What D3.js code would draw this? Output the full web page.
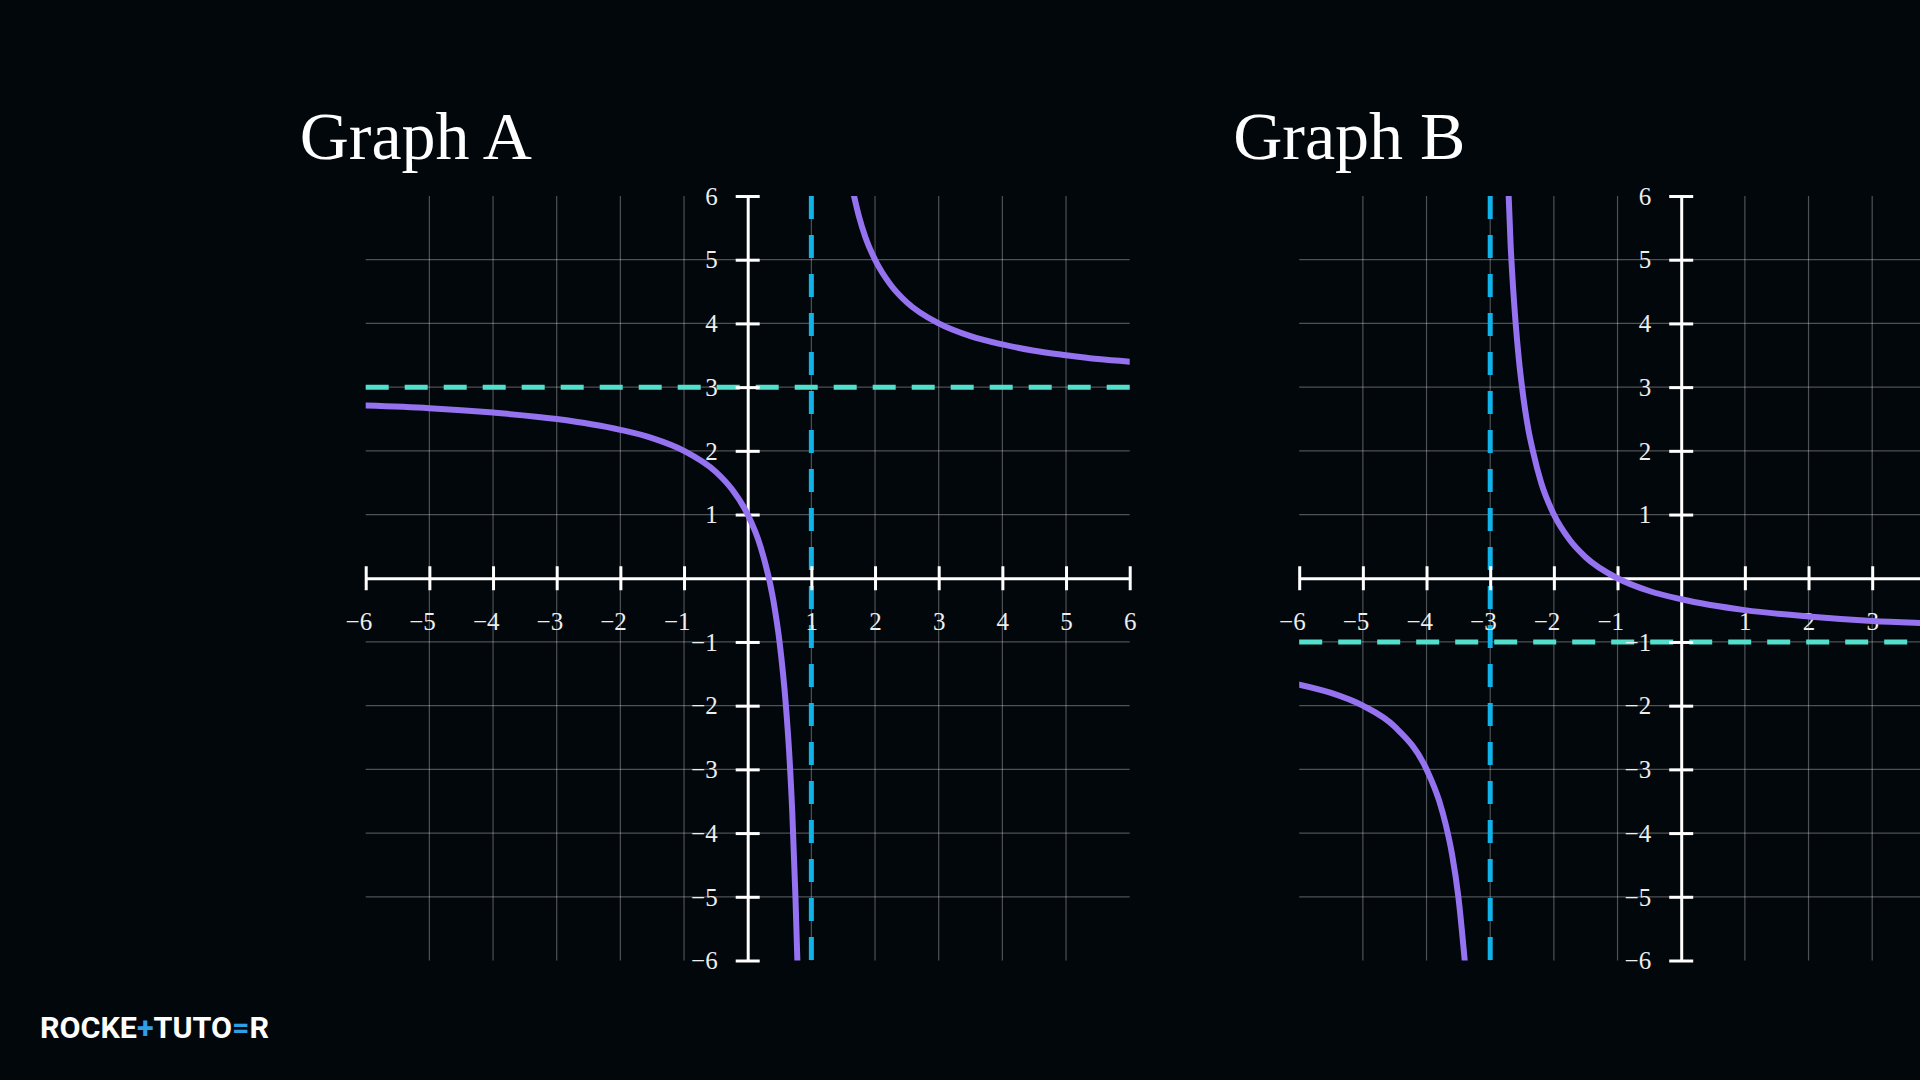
<!DOCTYPE html>
<html>
<head>
<meta charset="utf-8">
<script src="https://cdn.jsdelivr.net/npm/d3@7"></script>
<style>
  html, body { margin: 0; padding: 0; background: #02070c; }
  svg { display: block; }
</style>
</head>
<body>
<svg id="chart" width="1920" height="1080"></svg>
<script>
// tick values shared by both graphs
const axisTicks = [-6, -5, -4, -3, -2, -1, 1, 2, 3, 4, 5, 6];
const gridTicks = [-5, -4, -3, -2, -1, 1, 2, 3, 4, 5];
const domain = [-6, 6];

// Graph A : asymptotes x = 1, y = 3
const titleA = "Graph A";
const asymA = [1, 3];
const graphALeft = [
  [-6, 2.71], [-5, 2.67], [-4, 2.6], [-3, 2.5], [-2, 2.33], [-1.5, 2.2],
  [-1, 2.0], [-0.5, 1.67], [-0.25, 1.4], [0, 1.0], [0.2, 0.5], [0.4, -0.33],
  [0.5, -1.0], [0.6, -2.0], [0.65, -2.71], [0.7, -3.67], [0.75, -5.0], [0.78, -6.0]
];
const graphARight = [
  [1.67, 6.0], [1.75, 5.67], [1.85, 5.35], [2, 5.0], [2.25, 4.6], [2.5, 4.33],
  [3, 4.0], [3.5, 3.8], [4, 3.67], [4.5, 3.57], [5, 3.5], [5.5, 3.44], [6, 3.4]
];

// Graph B : asymptotes x = -3, y = -1
const titleB = "Graph B";
const asymB = [-3, -1];
const graphBLeft = [
  [-6, -1.67], [-5.5, -1.8], [-5, -2.0], [-4.5, -2.33], [-4, -3.0], [-3.8, -3.5],
  [-3.7, -3.86], [-3.6, -4.33], [-3.5, -5.0], [-3.4, -6.0]
];
const graphBRight = [
  [-2.71, 6.0], [-2.68, 5.25], [-2.65, 4.71], [-2.6, 4.0], [-2.55, 3.44], [-2.5, 3.0],
  [-2.4, 2.33], [-2.33, 2.0], [-2.2, 1.5], [-2, 1.0], [-1.75, 0.6], [-1.5, 0.33],
  [-1, 0.0], [-0.5, -0.2], [0, -0.33], [1, -0.5], [2, -0.6], [3, -0.67],
  [4, -0.71], [5, -0.75], [6, -0.78]
];

const W = 1920;
const svg = d3.select("#chart");
const fmt = (d) => (d < 0 ? "\u2212" + Math.abs(d) : String(d));

function drawGraph(left, title, asym, branches, id) {
  const x = d3.scaleLinear().domain(domain).range([left, left + 764]);
  const y = d3.scaleLinear().domain(domain).range([960.5, 196]);
  const g = svg.append("g");

  // 标题
  g.append("text")
    .attr("x", left - 66)
    .attr("y", 159)
    .attr("fill", "#ffffff")
    .style("font-family", "'Liberation Serif', serif")
    .style("font-size", "68px")
    .text(title);

  // grid
  g.append("g").selectAll("line").data(gridTicks).enter().append("line")
    .attr("x1", (d) => x(d)).attr("x2", (d) => x(d))
    .attr("y1", y(6)).attr("y2", y(-6))
    .attr("stroke", "rgba(255,255,255,0.3)").attr("stroke-width", 1.2);
  g.append("g").selectAll("line").data(gridTicks).enter().append("line")
    .attr("y1", (d) => y(d)).attr("y2", (d) => y(d))
    .attr("x1", x(-6)).attr("x2", x(6))
    .attr("stroke", "rgba(255,255,255,0.3)").attr("stroke-width", 1.2);

  // 渐近线
  g.append("line")
    .attr("x1", x(asym[0])).attr("x2", x(asym[0]))
    .attr("y1", y(6)).attr("y2", y(-6))
    .attr("stroke", "#10b2e8").attr("stroke-width", 5)
    .attr("stroke-dasharray", "23 16");
  g.append("line")
    .attr("x1", x(-6)).attr("x2", x(6))
    .attr("y1", y(asym[1])).attr("y2", y(asym[1]))
    .attr("stroke", "#52e0cc").attr("stroke-width", 5)
    .attr("stroke-dasharray", "23 16");

  // X axis (labels past the page edge are not shown in the reference)
  const xAxis = g.append("g")
    .attr("transform", `translate(0,${y(0)})`)
    .call(d3.axisBottom(x).tickValues(axisTicks).tickSize(12).tickSizeOuter(0)
      .tickFormat((d) => (x(d) + 10 < W ? fmt(d) : "")));
  xAxis.selectAll(".tick line").attr("y1", -12).attr("y2", 12);
  xAxis.selectAll(".tick text")
    .attr("y", 52).attr("dy", null)
    .attr("text-anchor", (d) => (d < 0 ? "end" : "middle"))
    .attr("x", (d) => (d < 0 ? 6 : 0));
  xAxis.selectAll(".tick text").filter((d) => x(d) + 10 >= W).remove();

  // Y axis
  const yAxis = g.append("g")
    .attr("transform", `translate(${x(0)},0)`)
    .call(d3.axisLeft(y).tickValues(axisTicks).tickSize(12).tickSizeOuter(0).tickFormat(fmt));
  yAxis.selectAll(".tick line").attr("x1", -12).attr("x2", 12);
  yAxis.selectAll(".tick text").attr("x", -30).attr("dy", "0.33em");

  [xAxis, yAxis].forEach((a) => {
    a.select(".domain").attr("stroke", "#ffffff").attr("stroke-width", 3);
    a.selectAll(".tick line").attr("stroke", "#ffffff").attr("stroke-width", 3);
    a.selectAll(".tick text")
      .attr("fill", "#eeeeee")
      .style("font-family", "'Liberation Serif', serif")
      .style("font-size", "25px");
  });

  // clip curve to the plot square
  svg.append("clipPath").attr("id", id)
    .append("rect")
    .attr("x", x(-6)).attr("y", y(6))
    .attr("width", x(6) - x(-6)).attr("height", y(-6) - y(6));

  const line = d3.line()
    .x((d) => x(d[0]))
    .y((d) => y(d[1]))
    .curve(d3.curveMonotoneX);

  g.append("g").attr("clip-path", `url(#${id})`)
    .selectAll("path").data(branches).enter().append("path")
    .attr("d", line)
    .attr("fill", "none")
    .attr("stroke", "#9572f0")
    .attr("stroke-width", 6)
    .attr("stroke-linecap", "round");
}

drawGraph(365.7, titleA, asymA, [graphALeft, graphARight], "clipA");
drawGraph(1299.2, titleB, asymB, [graphBLeft, graphBRight], "clipB");

// logo
const logo = svg.append("text")
  .attr("x", 40)
  .attr("y", 1038)
  .attr("textLength", 229)
  .attr("lengthAdjust", "spacingAndGlyphs")
  .style("font-family", "Roboto, 'Noto Sans', sans-serif")
  .style("font-weight", "700")
  .style("font-size", "30px")
  .attr("fill", "#ffffff");
logo.append("tspan").text("ROCKE");
logo.append("tspan").attr("fill", "#2f9fe6").text("+");
logo.append("tspan").text("TUTO");
logo.append("tspan").attr("fill", "#2f9fe6").text("=");
logo.append("tspan").text("R");
</script>
</body>
</html>
